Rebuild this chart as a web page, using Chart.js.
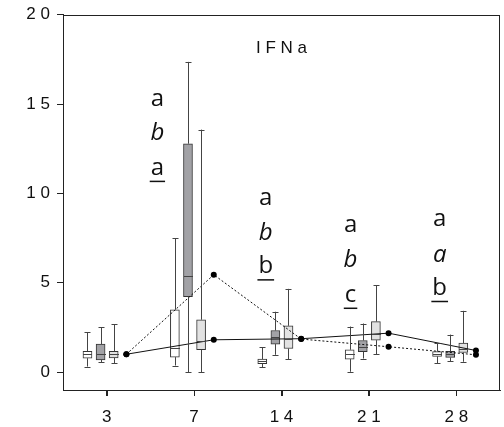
<!DOCTYPE html>
<html>
<head>
<meta charset="utf-8">
<script src="https://cdn.jsdelivr.net/npm/chart.js@4/dist/chart.umd.min.js"></script>
<style>
  body { margin: 0; background: #fff; }
  canvas { display: block; }
</style>
</head>
<body>
<canvas id="chart" width="504" height="427"></canvas>
<script>
// days (x categories) and tick labels
const jours = ["3", "7", "1 4", "2 1", "2 8"];
const yLabels = { 0: "0", 5: "5", 10: "1 0", 15: "1 5", 20: "2 0" };

// box plots: [min, q1, median, q3, max] per day
const boitesBlanches = [
    [0.31, 0.78, 1.0, 1.17, 2.22],
    [0.37, 0.84, 1.34, 3.49, 7.48],
    [0.28, 0.48, 0.61, 0.73, 1.38],
    [0.02, 0.73, 1.02, 1.25, 2.55],
    [0.5, 0.88, 1.02, 1.15, 1.62]
];
const boitesFoncees = [
    [0.54, 0.69, 1.0, 1.57, 2.5],
    [0.0, 4.22, 5.37, 12.78, 17.36],
    [0.97, 1.57, 1.96, 2.33, 3.38],
    [0.76, 1.14, 1.43, 1.77, 2.72],
    [0.6, 0.82, 1.02, 1.17, 2.1]
];
const boitesClaires = [
    [0.5, 0.8, 1.0, 1.17, 2.67],
    [0.0, 1.25, 1.75, 2.93, 13.57],
    [0.73, 1.32, 1.88, 2.59, 4.66],
    [1.01, 1.79, 2.16, 2.83, 4.87],
    [0.58, 1.1, 1.3, 1.62, 3.43]
];

// the two lines
const ligneContinue = [1.0, 1.81, 1.87, 2.18, 1.21];
const lignePointillee = [1.0, 5.45, 1.85, 1.42, 0.97];

// significance letters (days 7, 14, 21, 28)
const lettres = [
    ["a", "b", "a"],
    ["a", "b", "b"],
    ["a", "b", "c"],
    ["a", "a", "b"]
];

// offsets of each box inside a day group
const decalages = [-0.22, -0.07, 0.08];
const decalageLigne = 0.225;

const series = [
    { boites: boitesBlanches, couleur: "#ffffff" },
    { boites: boitesFoncees, couleur: "#a2a2a6" },
    { boites: boitesClaires, couleur: "#e2e2e2" }
];

const datasets = series.map((s, k) => ({
    type: "bar",
    data: s.boites.map((b, i) => ({ x: i + decalages[k], y: [b[1], b[3]] })),
    backgroundColor: s.couleur,
    borderColor: "#333",
    borderWidth: 1,
    borderSkipped: false,
    barThickness: 9,
    grouped: false,
    order: 2
}));

datasets.push({
    type: "line",
    data: ligneContinue.map((v, i) => ({ x: i + decalageLigne, y: v })),
    borderColor: "#111",
    borderWidth: 1,
    pointRadius: 3,
    pointBackgroundColor: "#000",
    pointBorderWidth: 0,
    order: 1
});
datasets.push({
    type: "line",
    data: lignePointillee.map((v, i) => ({ x: i + decalageLigne, y: v })),
    borderColor: "#111",
    borderWidth: 1,
    borderDash: [2, 2],
    pointRadius: 3,
    pointBackgroundColor: "#000",
    pointBorderWidth: 0,
    order: 1
});

// whiskers, medians, frame and text
const dessinBoites = {
    id: "dessinBoites",
    afterDatasetsDraw(chart) {
        const ctx = chart.ctx;
        const xs = chart.scales.x;
        const ys = chart.scales.y;
        ctx.save();
        ctx.strokeStyle = "#444";
        ctx.lineWidth = 1;
        series.forEach((s, k) => {
            s.boites.forEach((b, i) => {
                const cx = Math.round(xs.getPixelForValue(i + decalages[k])) + 0.5;
                const yMin = ys.getPixelForValue(b[0]);
                const yQ1 = ys.getPixelForValue(b[1]);
                const yMed = Math.round(ys.getPixelForValue(b[2])) + 0.5;
                const yQ3 = ys.getPixelForValue(b[3]);
                const yMax = ys.getPixelForValue(b[4]);
                ctx.beginPath();
                ctx.moveTo(cx, yQ3); ctx.lineTo(cx, yMax);
                ctx.moveTo(cx, yQ1); ctx.lineTo(cx, yMin);
                ctx.moveTo(cx - 3, Math.round(yMax) + 0.5); ctx.lineTo(cx + 3, Math.round(yMax) + 0.5);
                ctx.moveTo(cx - 3, Math.round(yMin) + 0.5); ctx.lineTo(cx + 3, Math.round(yMin) + 0.5);
                ctx.moveTo(cx - 4.5, yMed); ctx.lineTo(cx + 4.5, yMed);
                ctx.stroke();
            });
        });

        // frame and x tick marks
        const a = chart.chartArea;
        ctx.strokeStyle = "#222";
        ctx.strokeRect(Math.round(a.left) + 0.5, Math.round(a.top) + 0.5,
            Math.round(a.right - a.left) - 1, Math.round(a.bottom - a.top));
        ctx.beginPath();
        jours.forEach((j, i) => {
            const tx = Math.round(xs.getPixelForValue(i)) + 0.5;
            ctx.moveTo(tx, a.bottom);
            ctx.lineTo(tx, a.bottom + 6);
        });
        ctx.stroke();

        // title inside the plot
        ctx.fillStyle = "#111";
        ctx.font = "17px 'Liberation Sans', Arial, sans-serif";
        ctx.textAlign = "center";
        ctx.textBaseline = "alphabetic";
        ctx.fillText("I F N a", xs.getPixelForValue(2.0), ys.getPixelForValue(17.85));

        // letters
        const posX = [-0.42, -0.18, -0.21, -0.19];
        const posY = [[14.91, 13.0, 11.05], [9.33, 7.41, 5.54], [7.82, 5.91, 3.95], [8.15, 6.19, 4.33]];
        lettres.forEach((col, j) => {
            const x = xs.getPixelForValue(j + 1 + posX[j]);
            col.forEach((l, r) => {
                const y = ys.getPixelForValue(posY[j][r]);
                ctx.font = (r === 1 ? "italic " : "") + "24px 'Open Sans', sans-serif";
                ctx.fillText(l, x, y);
                if (r === 2) {
                    const w = ctx.measureText(l).width;
                    ctx.fillRect(x - w / 2 - 1, y + 6, w + 2, 1.5);
                }
            });
        });
        ctx.restore();
    }
};

new Chart(document.getElementById("chart"), {
    type: "bar",
    data: { datasets: datasets },
    options: {
        responsive: false,
        animation: false,
        layout: { padding: { top: 14.7, right: 1, left: 0, bottom: 0 } },
        plugins: { legend: { display: false }, tooltip: { enabled: false } },
        scales: {
            x: {
                type: "linear",
                min: -0.5,
                max: 4.5,
                offset: false,
                afterBuildTicks: axis => { axis.ticks = jours.map((j, i) => ({ value: i })); },
                ticks: {
                    callback: v => jours[v],
                    color: "#111",
                    padding: 11,
                    maxRotation: 0,
                    font: { family: "'Liberation Sans', Arial, sans-serif", size: 17 }
                },
                grid: { drawOnChartArea: false, offset: false, tickLength: 6, color: "#222" },
                border: { color: "#222" },
                afterFit: axis => { axis.height = 37; axis.paddingLeft = 0; axis.paddingRight = 0; }
            },
            y: {
                min: -1,
                max: 20,
                ticks: {
                    stepSize: 5,
                    includeBounds: false,
                    callback: v => yLabels[v],
                    color: "#111",
                    padding: 7,
                    font: { family: "'Liberation Sans', Arial, sans-serif", size: 17 }
                },
                grid: { drawOnChartArea: false, tickLength: 6, color: "#222" },
                border: { color: "#222" },
                afterFit: axis => { axis.width = 63; axis.paddingTop = 0; axis.paddingBottom = 0; }
            }
        }
    },
    plugins: [dessinBoites]
});
</script>
</body>
</html>
